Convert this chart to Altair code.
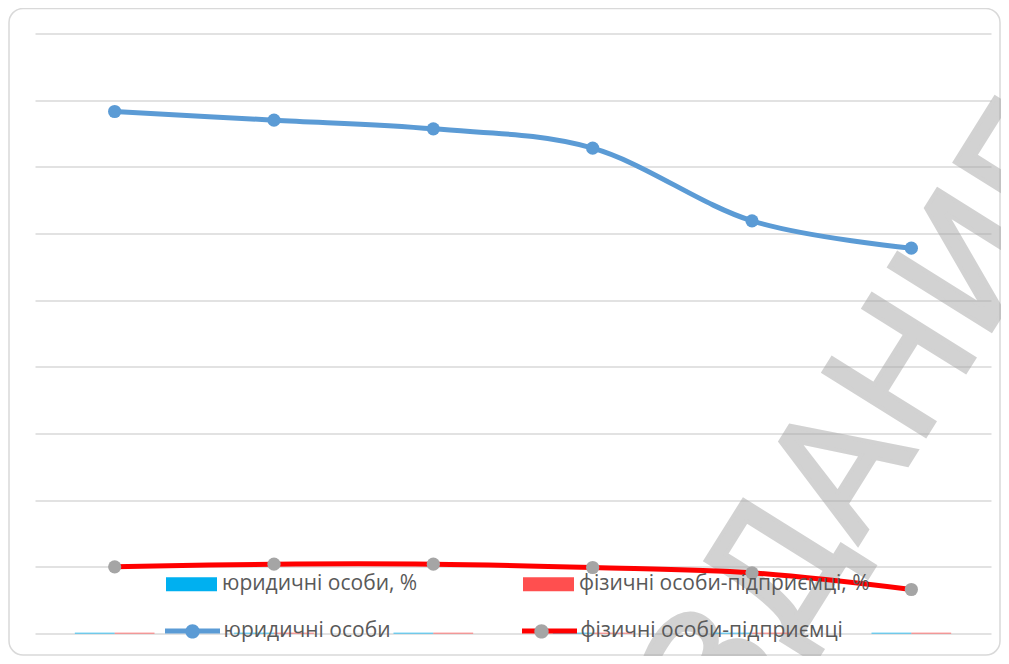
import altair as alt
import pandas as pd

# ---- data ----
categories = ["1", "2", "3", "4", "5", "6"]
legal_entities = [78.3, 77.0, 75.7, 72.8, 61.9, 57.8]
individual_entrepreneurs = [10.0, 10.4, 10.4, 9.9, 9.1, 6.6]
legal_pct = [0.1, 0.1, 0.1, 0.1, 0.1, 0.1]
individual_pct = [0.1, 0.1, 0.1, 0.1, 0.1, 0.1]
y_ticks = [0, 10, 20, 30, 40, 50, 60, 70, 80, 90]

S_LEGAL_PCT = "юридичні особи, %"
S_IND_PCT = "фізичні особи-підприємці, %"
S_LEGAL = "юридичні особи"
S_IND = "фізичні особи-підприємці"
WATERMARK = "ИЗДАНИЕ"

bars_df = pd.DataFrame({
    "cat": categories * 2,
    "series": [S_LEGAL_PCT] * len(categories) + [S_IND_PCT] * len(categories),
    "value": legal_pct + individual_pct,
})
lines_df = pd.DataFrame({
    "cat": categories * 2,
    "series": [S_LEGAL] * len(categories) + [S_IND] * len(categories),
    "value": legal_entities + individual_entrepreneurs,
})

W, H = 956, 600
LABEL_FONT = "Open Sans"
LABEL_SIZE = 21
LABEL_COLOR = "#595959"

x_enc = alt.X("cat:N", sort=categories, axis=None,
              scale=alt.Scale(paddingInner=0, paddingOuter=0))
y_scale = alt.Scale(domain=[0, 90], nice=False, zero=True)
y_axis = alt.Axis(values=y_ticks, labels=False, ticks=False, domain=False,
                  title=None, grid=True, gridColor="#d9d9d9", gridWidth=1.5)

# decorative rounded chart border
border = alt.Chart(pd.DataFrame({"k": [0]})).mark_rect(
    fill="transparent", stroke="#d9d9d9", strokeWidth=1.5, cornerRadius=14
).encode(x=alt.value(-26), x2=alt.value(965), y=alt.value(-25), y2=alt.value(621.5))

watermark = alt.Chart(pd.DataFrame({"t": [WATERMARK]})).mark_text(
    angle=302, fontSize=165, font="DejaVu Sans", color="#a6a6a6", opacity=0.5,
    stroke="#a6a6a6", strokeWidth=4,
    align="center", baseline="middle"
).encode(text="t:N", x=alt.value(808), y=alt.value(440))

bars = alt.Chart(bars_df).mark_bar().encode(
    x=x_enc,
    xOffset=alt.XOffset("series:N", sort=[S_LEGAL_PCT, S_IND_PCT],
                        scale=alt.Scale(paddingInner=0, paddingOuter=1)),
    y=alt.Y("value:Q", scale=y_scale, axis=y_axis),
    color=alt.Color("series:N",
                    scale=alt.Scale(domain=[S_LEGAL_PCT, S_IND_PCT], range=["#00b0f0", "#ff4f4f"]),
                    legend=alt.Legend(orient="none", legendX=131, legendY=525, direction="horizontal",
                                      columns=2, columnPadding=105, title=None, padding=0,
                                      symbolType="M-1,-0.27H1V0.27H-1Z", symbolSize=2601,
                                      symbolStrokeWidth=0, symbolOpacity=1,
                                      labelFont=LABEL_FONT, labelFontSize=LABEL_SIZE,
                                      labelColor=LABEL_COLOR, labelOffset=5, labelLimit=400)),
)

line_legend_common = dict(orient="none", legendX=127.5, legendY=567.5, direction="horizontal",
                          columns=2, columnPadding=121, title=None, padding=0,
                          symbolSize=3025, symbolStrokeWidth=5,
                          labelFont=LABEL_FONT, labelFontSize=LABEL_SIZE,
                          labelColor=LABEL_COLOR, labelOffset=1, labelLimit=400,
                          labelExpr="trim(datum.label)")

lines = alt.Chart(lines_df).mark_line(strokeWidth=5, interpolate="cardinal").encode(
    x=x_enc,
    y=alt.Y("value:Q", scale=y_scale, axis=y_axis),
    stroke=alt.Stroke("series:N",
                      scale=alt.Scale(domain=[S_LEGAL, S_IND], range=["#5b9bd5", "#ff0000"]),
                      legend=alt.Legend(symbolType="stroke", **line_legend_common)),
)

# marker layer: a separate (space-suffixed) domain keeps its legend from merging with the line legend
points = alt.Chart(lines_df).transform_calculate(
    marker="datum.series + ' '"
).mark_circle(size=175, opacity=1).encode(
    x=x_enc,
    y=alt.Y("value:Q", scale=y_scale, axis=y_axis),
    fill=alt.Fill("marker:N",
                  scale=alt.Scale(domain=[S_LEGAL + " ", S_IND + " "], range=["#5b9bd5", "#a5a5a5"]),
                  legend=alt.Legend(symbolType="M0.26,0A0.26,0.26,0,1,1,-0.26,0A0.26,0.26,0,1,1,0.26,0Z",
                                    symbolStrokeColor="transparent", symbolOpacity=1,
                                    labelOpacity=0, **line_legend_common)),
)

chart = alt.layer(border, watermark, bars, lines, points).properties(
    width=W, height=H,
    autosize=alt.AutoSizeParams(type="none"),
    padding={"left": 27, "top": 25.5, "right": 10, "bottom": 22.5},
    background="white",
).configure_view(stroke=None)

chart.save("out.html", embed_options={"renderer": "svg", "actions": False})
